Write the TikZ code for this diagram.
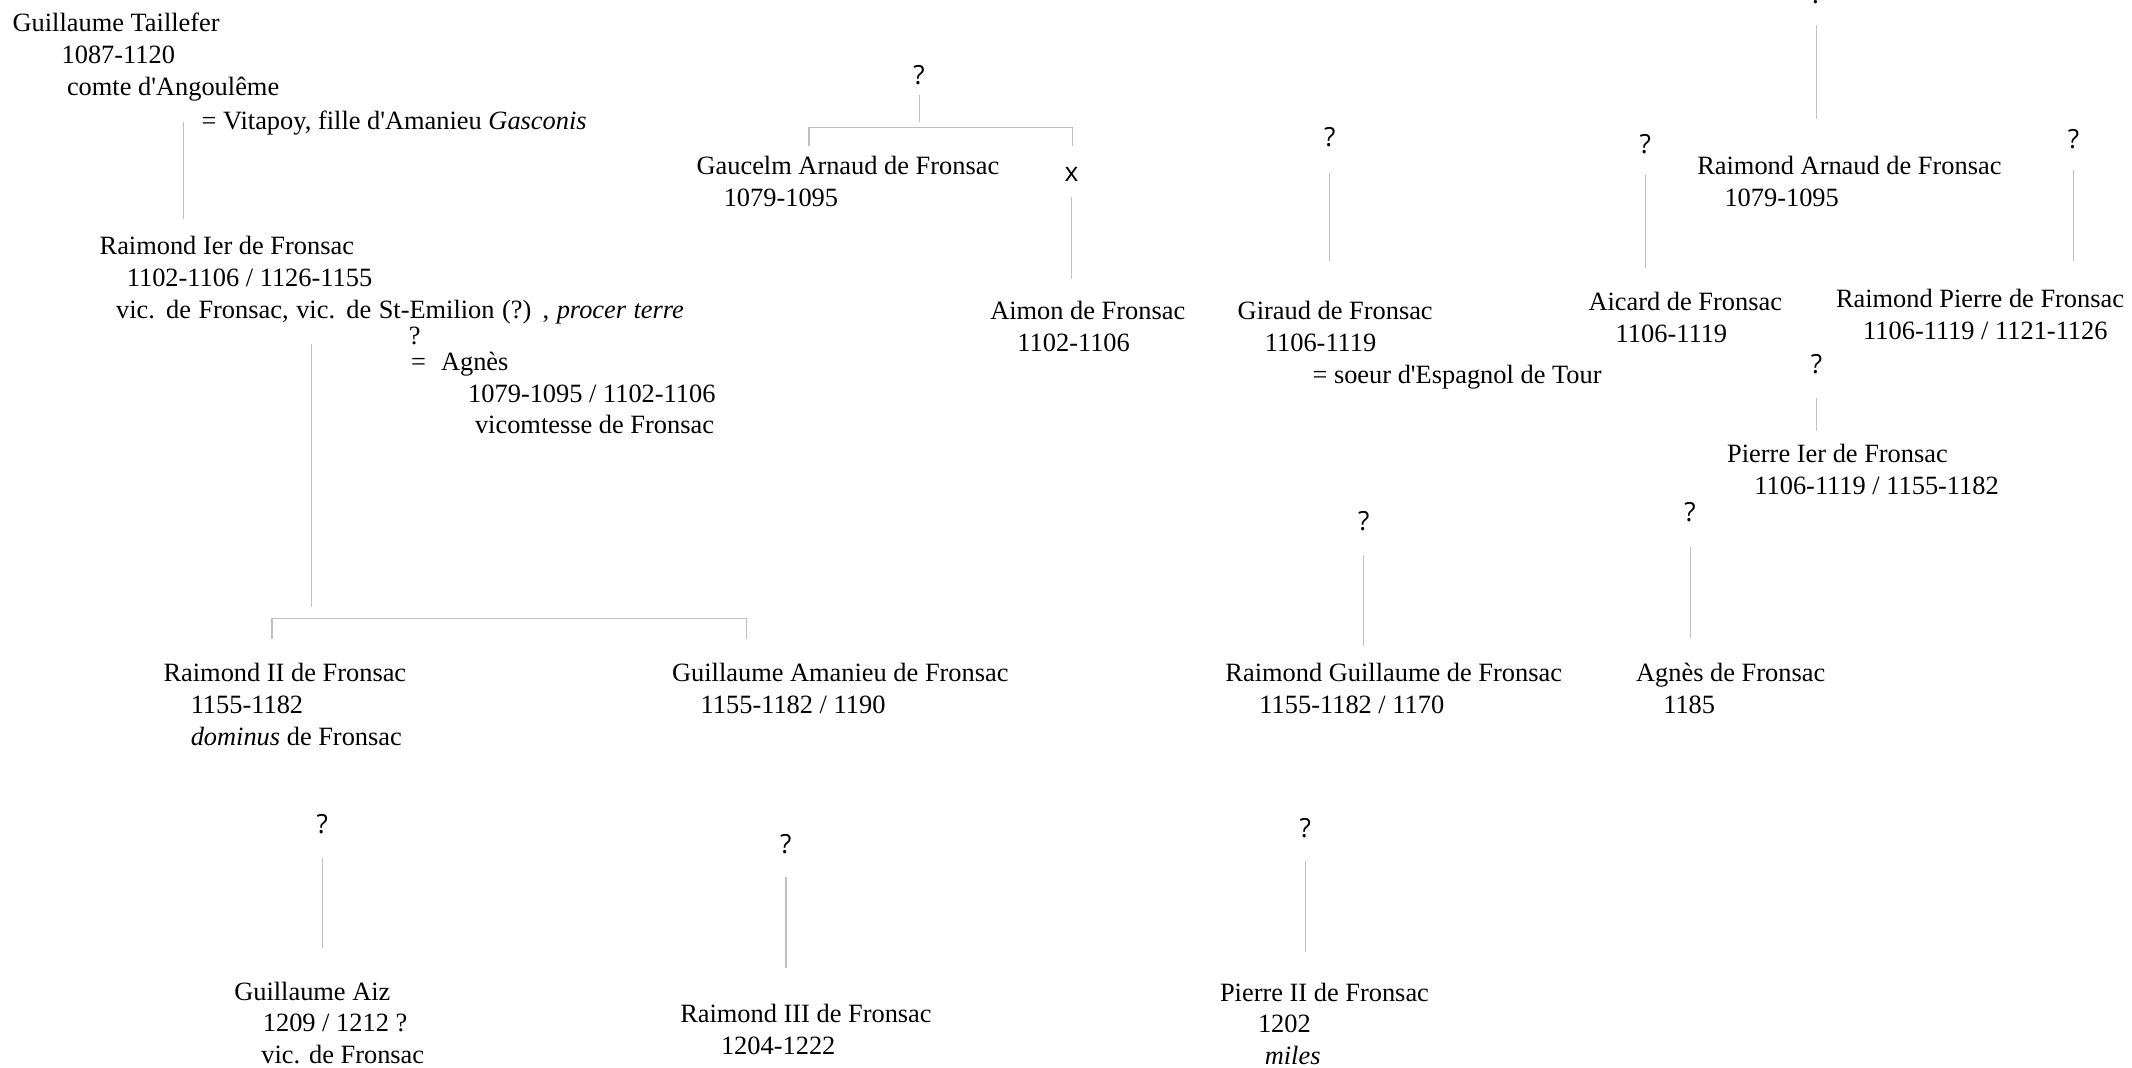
\documentclass[tikz,border=0pt]{standalone}
\usepackage{fontspec}
\newfontfamily\fronsacfont{Liberation Serif}
\newfontfamily\qfont{Open Sans}
\newcommand\fs{\fontsize{13.2}{15.9}\selectfont}
\tikzset{
  person/.style={anchor=base west, align=left, inner sep=0pt, font=\fronsacfont\fs},
  qmark/.style={inner sep=0pt, font=\qfont\fs},
  link/.style={draw=black!25, line width=0.6pt}
}
\begin{document}
\begin{tikzpicture}[x=0.68pt, y=-0.68pt]
\useasboundingbox (0,0) rectangle (1568,785);

\node[person] (gt) at (9,70.1) {Guillaume Taillefer\\\hspace*{24.5pt}1087-1120\\\hspace*{27.2pt}comte d'Angoulême};
\node[person] (vitapoy) at (148,95.3) {= Vitapoy, fille d'Amanieu \textit{Gasconis}};
\node[person] (r1) at (73,234.1) {Raimond Ier de Fronsac\\\hspace*{13.6pt}1102-1106 / 1126-1155\\\hspace*{8.2pt}\makebox[284pt][s]{vic. de Fronsac, vic. de St-Emilion (?) , \textit{procer terre}}};
\node[anchor=base, inner sep=0pt, font=\fronsacfont\fs] (q-agnes) at (305,253) {?};
\node[person] (agnes) at (302,319.1) {\makebox[15pt][l]{=}Agnès\\\hspace*{28.6pt}1079-1095 / 1102-1106\\\hspace*{32pt}vicomtesse de Fronsac};
\node[person] (r2) at (120,548.1) {Raimond II de Fronsac\\\hspace*{13.6pt}1155-1182\\\hspace*{13.6pt}\textit{dominus} de Fronsac};
\node[person] (ga) at (494,524.7) {Guillaume Amanieu de Fronsac\\\hspace*{14.3pt}1155-1182 / 1190};
\node[qmark] (q-gaiz) at (237,606) {?};
\node[person] (gaiz) at (172,782.3) {Guillaume Aiz\\\hspace*{14.3pt}1209 / 1212 ?\\\hspace*{13.6pt}vic. de Fronsac};
\node[qmark] (q-r3) at (578,621) {?};
\node[person] (r3) at (500,775.7) {Raimond III de Fronsac\\\hspace*{20.4pt}1204-1222};

\node[qmark] (q-gauc) at (676,55) {?};
\node[person] (gauc) at (512,151.7) {Gaucelm Arnaud de Fronsac\\\hspace*{13.6pt}1079-1095};
\node[qmark] (xmark) at (788,128) {x};
\node[person] (aimon) at (728,258.7) {Aimon de Fronsac\\\hspace*{13.6pt}1102-1106};
\node[qmark] (q-giraud) at (978,101) {?};
\node[person] (giraud) at (910,282.1) {Giraud de Fronsac\\\hspace*{13.6pt}1106-1119\\\hspace*{37.4pt}= soeur d'Espagnol de Tour};

\node[qmark, anchor=base] (q-ra) at (1336,2.5) {?};
\node[person] (ra) at (1248,151.7) {Raimond Arnaud de Fronsac\\\hspace*{13.6pt}1079-1095};
\node[qmark] (q-aicard) at (1210,106) {?};
\node[person] (aicard) at (1168,251.7) {Aicard de Fronsac\\\hspace*{13.6pt}1106-1119};
\node[qmark] (q-rp) at (1525,102) {?};
\node[person] (rp) at (1350,249.7) {Raimond Pierre de Fronsac\\\hspace*{13.6pt}1106-1119 / 1121-1126};
\node[qmark] (q-p1) at (1336,268) {?};
\node[person] (p1) at (1270,363.7) {Pierre Ier de Fronsac\\\hspace*{13.6pt}1106-1119 / 1155-1182};
\node[qmark] (q-rg) at (1003,383) {?};
\node[person] (rg) at (901,524.7) {Raimond Guillaume de Fronsac\\\hspace*{17pt}1155-1182 / 1170};
\node[qmark] (q-ag) at (1243,377) {?};
\node[person] (agf) at (1203,524.7) {Agnès de Fronsac\\\hspace*{13.6pt}1185};
\node[qmark] (q-p2) at (960,609) {?};
\node[person] (p2) at (897,783.1) {Pierre II de Fronsac\\\hspace*{19pt}1202\\\hspace*{22.4pt}\textit{miles}};

\coordinate (gt-stem) at (135,90);
\coordinate (bar-m) at (229,455);
\coordinate (bar-l) at (200,455);
\coordinate (bar-r) at (549,455);
\coordinate (gbar-l) at (595,94);
\coordinate (gbar-r) at (789,94);

\draw[link, shorten >=8.4pt] (gt-stem) -- (gt-stem |- r1.north);
\draw[link, shorten <=10pt, shorten >=6pt] (bar-m |- r1.south) -- (bar-m);
\draw[link, shorten <=11.8pt, shorten >=11.8pt] (bar-l |- r2.north) -- (bar-l) -- (bar-r) -- (bar-r |- ga.north);
\draw[link, shorten <=17pt, shorten >=16.7pt] (q-gaiz.center) -- (q-gaiz |- gaiz.north);
\draw[link, shorten <=16.3pt, shorten >=17.9pt] (q-r3.center) -- (q-r3 |- r3.north);

\draw[link, shorten <=10pt, shorten >=2.7pt] (q-gauc.center) -- (q-gauc |- gbar-l);
\draw[link, shorten <=5pt, shorten >=5pt] (gbar-l |- gauc.north) -- (gbar-l) -- (gbar-r) -- (gbar-r |- gauc.north);
\draw[link, shorten <=11.6pt, shorten >=11.1pt] (xmark.center) -- (xmark |- aimon.north);
\draw[link, shorten <=17.7pt, shorten >=19.9pt] (q-giraud.center) -- (q-giraud |- giraud.north);

\draw[link, shorten <=15.4pt, shorten >=18.6pt] (q-ra.center) -- (q-ra |- ra.north);
\draw[link, shorten <=15.6pt, shorten >=11.8pt] (q-aicard.center) -- (q-aicard |- aicard.north);
\draw[link, shorten <=15.6pt, shorten >=13.8pt] (q-rp.center) -- (q-rp |- rp.north);
\draw[link, shorten <=17pt, shorten >=6.3pt] (q-p1.center) -- (q-p1 |- p1.north);
\draw[link, shorten <=17pt, shorten >=8.4pt] (q-rg.center) -- (q-rg |- rg.north);
\draw[link, shorten <=17pt, shorten >=12.4pt] (q-ag.center) -- (q-ag |- agf.north);
\draw[link, shorten <=16.3pt, shorten >=15.2pt] (q-p2.center) -- (q-p2 |- p2.north);

\end{tikzpicture}
\end{document}
